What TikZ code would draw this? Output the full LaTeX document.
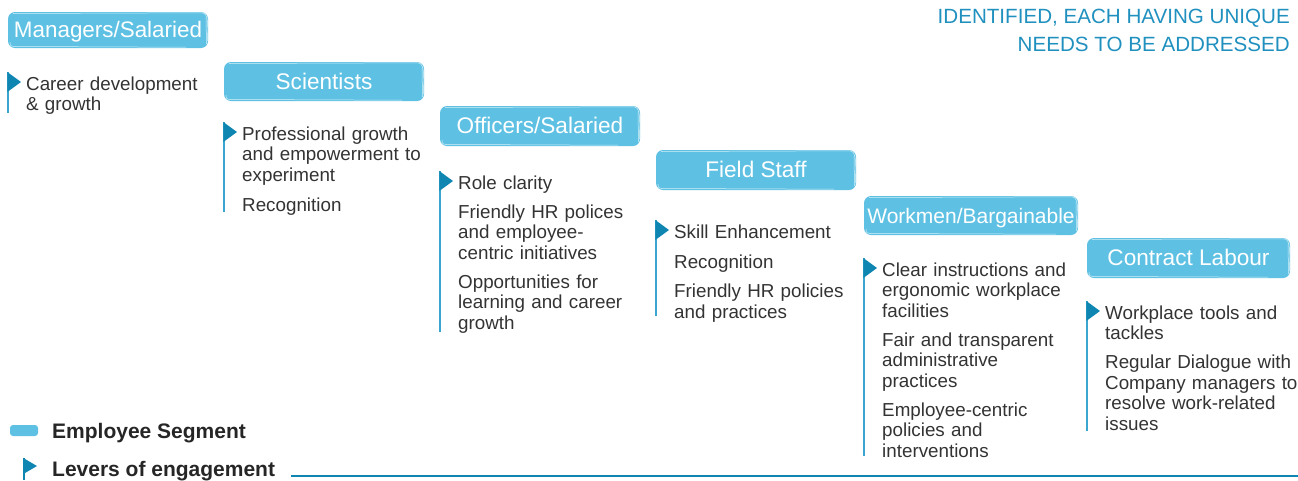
\documentclass[tikz,border=0pt]{standalone}
\usepackage{fontspec}
\setmainfont{Liberation Sans}
\definecolor{segblue}{HTML}{5EC1E3}
\definecolor{markblue}{HTML}{0F86B1}
\definecolor{ruleblue}{HTML}{3BA6CF}
\definecolor{headblue}{HTML}{2090BF}
\definecolor{bodytext}{HTML}{333333}
\begin{document}
\begin{tikzpicture}[x=1pt,y=-1pt,
  segbox/.style={fill=segblue, rounded corners=7pt},
  segsketch/.style={draw=white, line width=0.5pt, opacity=0.75, line cap=round},
  seglabel/.style={text=white, anchor=base, inner sep=0pt},
  lever/.style={anchor=base west, inner sep=0pt, text=bodytext, align=left,
    text width=240pt, font=\fontsize{18.8}{20.5}\selectfont},
  leverrule/.style={draw=ruleblue, line width=1.4pt},
  levermark/.style={fill=markblue},
  legend/.style={anchor=base west, inner sep=0pt, text=black!85,
    font=\bfseries\fontsize{21}{22}\selectfont}
]
\useasboundingbox (0,0) rectangle (1298,480);

% segment header with light brush strokes along its edges
\newcommand{\segment}[7]{%
  \fill[segbox] (#1,#2) rectangle (#3,#4);
  \draw[segsketch] (#1+5,#2+1.5) -- (#3-8,#2+0.8)
     .. controls (#3-1,#2+0.5) and (#3+0.5,#2+4) .. (#3-0.5,#4-7);
  \draw[segsketch] (#1+2,#4-6) .. controls (#1+1,#4-1.5) and (#1+4,#4-1.2) .. (#1+12,#4-1.5)
     -- (#3-22,#4-0.8);
  \draw[segsketch] (#3-2,#2+6) -- (#3-1.5,#4-4);
  \node[seglabel, font=\fontsize{#7}{24}\selectfont] (#5) at ({(#1+#3)/2},{(#2+#4)/2+7.8}) {#6};
}
% marker flag and vertical rule in front of a list of levers
\newcommand{\levers}[5]{%
  \draw[leverrule] (#1,#2) -- (#1,#3);
  \fill[levermark] (#1-0.7,#2) -- (#1+13,#2+10) -- (#1-0.7,#2+20) -- cycle;
  \node[lever] (#4) at (#1+18,#2+18) {#5};
}

\segment{8}{12}{208}{48}{mgr}{Managers/Salaried}{22.4}
\segment{224}{62}{424}{101}{sci}{Scientists}{22.6}
\segment{440}{106}{640}{146}{off}{Officers/Salaried}{22.6}
\segment{656}{150}{856}{190}{fld}{Field Staff}{22.6}
\segment{864}{196}{1078}{235}{wrk}{Workmen/Bargainable}{21}
\segment{1087}{238}{1290}{278}{con}{Contract Labour}{22.6}

\levers{8}{72}{113}{lmgr}{Career development\\\& growth}
\levers{224}{122}{212}{lsci}{Professional growth\\and empowerment to\\experiment\\[9.5pt]Recognition}
\levers{440}{171}{332}{loff}{Role clarity\\[8.5pt]Friendly HR polices\\and employee-\\centric initiatives\\[8.5pt]Opportunities for\\learning and career\\growth}
\levers{656}{220}{316}{lfld}{Skill Enhancement\\[10pt]Recognition\\[8.5pt]Friendly HR policies\\and practices}
\levers{864}{258}{456}{lwrk}{Clear instructions and\\ergonomic workplace\\facilities\\[8.5pt]Fair and transparent\\administrative\\practices\\[8.5pt]Employee-centric\\policies and\\interventions}
\levers{1087}{301}{431}{lcon}{Workplace tools and\\tackles\\[8.5pt]Regular Dialogue with\\Company managers to\\resolve work-related\\issues}

% heading fragment, top right
\node[anchor=base east, inner sep=0pt, text=headblue, font=\fontsize{20.6}{28}\selectfont]
  (head1) at (1290,23) {IDENTIFIED, EACH HAVING UNIQUE};
\node[anchor=base east, inner sep=0pt, text=headblue, font=\fontsize{20.6}{28}\selectfont]
  (head2) at (1290,51) {NEEDS TO BE ADDRESSED};

% legend
\fill[segblue, rounded corners=3pt] (10,425) rectangle (38,436);
\node[legend] (lgseg) at (52,438) {Employee Segment};
\draw[leverrule, draw=markblue] (24,458) -- (24,480);
\fill[levermark] (23.3,458) -- (37,466) -- (23.3,474) -- cycle;
\node[legend] (lglev) at (52,476) {Levers of engagement};
\coordinate (ruleend) at (1298,476);
\draw[draw=markblue, line width=2pt] ([xshift=16pt]lglev.east |- ruleend) -- (ruleend);
\end{tikzpicture}
\end{document}
